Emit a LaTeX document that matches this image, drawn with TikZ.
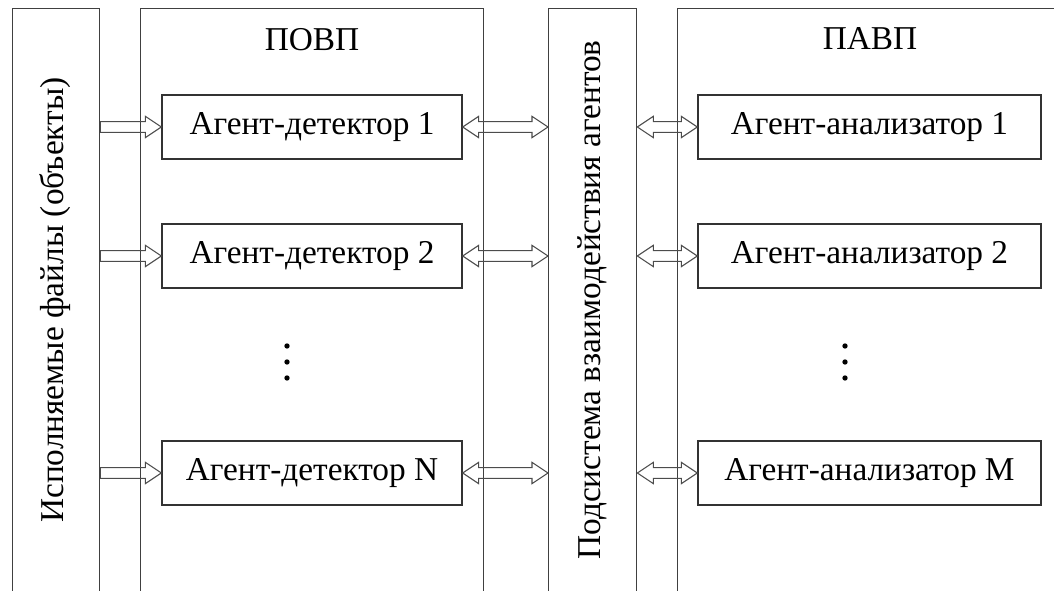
\documentclass[tikz,border=0pt]{standalone}
\usepackage{fontspec}
\setmainfont{Liberation Serif}
\usetikzlibrary{positioning,calc}

\begin{document}
\begin{tikzpicture}[x=0.75pt,y=-0.75pt,node distance=96.75pt,
  panel/.style={draw=black!75,line width=1pt,anchor=north west,inner sep=0pt},
  agent/.style={draw=black!80,line width=1pt,minimum height=48pt,inner sep=0pt,
    font=\fontsize{25}{30}\selectfont},
  title/.style={font=\fontsize{25}{30}\selectfont},
  fat arrow/.style={draw=black!70,line width=0.8pt,
    to path={let \p1=(\tikztostart), \p2=(\tikztotarget) in
      (\x1,\y1+4pt) -- (\x2-12pt,\y1+4pt) -- (\x2-12pt,\y1+8pt) -- (\x2,\y1)
      -- (\x2-12pt,\y1-8pt) -- (\x2-12pt,\y1-4pt) -- (\x1,\y1-4pt) -- cycle}},
  fat dbl/.style={draw=black!70,line width=0.8pt,
    to path={let \p1=(\tikztostart), \p2=(\tikztotarget) in
      (\x1,\y1) -- (\x1+12pt,\y1+8pt) -- (\x1+12pt,\y1+4pt) -- (\x2-12pt,\y1+4pt)
      -- (\x2-12pt,\y1+8pt) -- (\x2,\y1) -- (\x2-12pt,\y1-8pt) -- (\x2-12pt,\y1-4pt)
      -- (\x1+12pt,\y1-4pt) -- (\x1+12pt,\y1-8pt) -- cycle}}]

  \useasboundingbox (0,0) rectangle (1054,591);

  % panels (open at the bottom and on the right)
  \node[panel,minimum width=65.25pt,minimum height=442.5pt] (files) at (12,8) {};
  \node[panel,minimum width=257.25pt,minimum height=442.5pt] (povp) at (140,8) {};
  \node[panel,minimum width=66pt,minimum height=442.5pt] (sub) at (548,8) {};
  \node[panel,minimum width=290pt,minimum height=442.5pt] (pavp) at (677,8) {};

  \node[title,rotate=90] (filesT) at (55.5,300) {Исполняемые файлы (объекты)};
  \node[title,rotate=90] (subT) at (592,300) {Подсистема взаимодействия агентов};
  \node[title] (povpT) at (312,40) {ПОВП};
  \node[title] (pavpT) at (870,39) {ПАВП};

  % agents
  \node[agent,minimum width=225pt] (det1) at (312,127) {Агент-детектор 1};
  \node[agent,minimum width=225pt] (det2) [below of=det1] {Агент-детектор 2};
  \node[agent,minimum width=225pt,node distance=162.75pt] (detN) [below of=det2] {Агент-детектор N};

  \node[agent,minimum width=257.25pt,node distance=418.1pt] (ana1) [right of=det1] {Агент-анализатор 1};
  \node[agent,minimum width=257.25pt,node distance=418.1pt] (ana2) [right of=det2] {Агент-анализатор 2};
  \node[agent,minimum width=257.25pt,node distance=418.1pt] (anaM) [right of=detN] {Агент-анализатор M};

  \foreach \k in {346,362,378} {
    \fill (287,\k) circle (2pt);
    \fill (845,\k) circle (2pt);
  }

  \path
    (files.east |- det1) edge[fat arrow] (det1.west)
    (files.east |- det2) edge[fat arrow] (det2.west)
    (files.east |- detN) edge[fat arrow] (detN.west)
    (det1.east) edge[fat dbl] (sub.west |- det1.east)
    (det2.east) edge[fat dbl] (sub.west |- det2.east)
    (detN.east) edge[fat dbl] (sub.west |- detN.east)
    (sub.east |- ana1.west) edge[fat dbl] (ana1.west)
    (sub.east |- ana2.west) edge[fat dbl] (ana2.west)
    (sub.east |- anaM.west) edge[fat dbl] (anaM.west);
\end{tikzpicture}
\end{document}
